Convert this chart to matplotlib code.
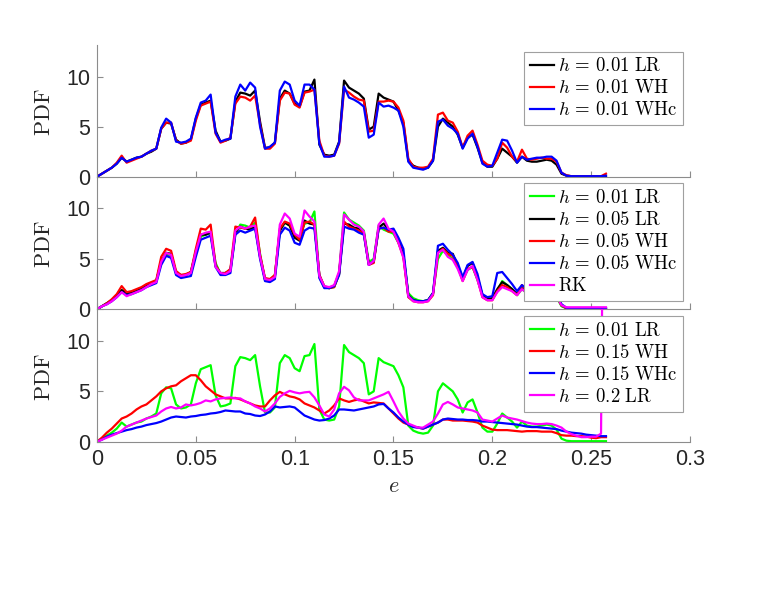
"""Three stacked PDF panels of e for several step sizes / integrators."""

import numpy as np
import matplotlib
matplotlib.use("Agg")
import matplotlib.pyplot as plt  # noqa: E402

# ---------------------------------------------------------------------------
# Data (PDF values, bin width 0.0025 in e)
# ---------------------------------------------------------------------------

E_STEP = 0.0025

lr_001 = [
    0.0, 0.3, 0.6, 0.9, 1.3, 1.9, 1.5, 1.7, 1.9, 2.0,
    2.3, 2.5, 2.8, 4.8, 5.4, 5.3, 3.7, 3.3, 3.4, 3.7,
    5.8, 7.2, 7.4, 7.6, 4.6, 3.5, 3.6, 3.8, 7.5, 8.4,
    8.3, 8.1, 8.6, 5.5, 2.9, 2.9, 3.4, 7.8, 8.6, 8.3,
    7.3, 7.0, 8.5, 8.6, 9.7, 3.2, 2.2, 2.1, 2.2, 3.5,
    9.6, 8.9, 8.6, 8.3, 7.8, 4.7, 5.0, 8.3, 7.9, 7.7,
    7.5, 6.6, 5.4, 1.6, 1.1, 0.9, 0.8, 0.9, 1.6, 5.0,
    5.8, 5.4, 5.0, 4.2, 2.9, 3.9, 4.2, 2.9, 1.4, 1.0,
    1.0, 1.8, 2.8, 2.4, 2.0, 1.4, 2.0, 1.6, 1.5, 1.5,
    1.6, 1.7, 1.6, 1.2, 0.3, 0.1, 0.05, 0.05, 0.05, 0.05,
    0.05, 0.05, 0.05, 0.05,
]
wh_001 = [
    0.0, 0.3, 0.6, 0.9, 1.4, 2.1, 1.4, 1.6, 1.8, 2.0,
    2.3, 2.6, 2.8, 4.8, 5.4, 5.4, 3.6, 3.3, 3.4, 3.6,
    5.6, 7.1, 7.3, 7.5, 4.3, 3.4, 3.6, 3.9, 7.3, 8.0,
    7.9, 7.6, 8.1, 5.2, 2.8, 2.8, 3.3, 7.6, 8.4, 8.3,
    7.2, 6.9, 8.4, 8.5, 8.7, 3.6, 2.1, 2.0, 2.1, 3.3,
    8.7, 8.4, 8.0, 7.7, 7.6, 4.5, 4.6, 7.5, 7.5, 7.6,
    7.5, 6.9, 5.6, 1.8, 1.0, 0.9, 0.9, 1.0, 1.8, 6.2,
    6.4, 5.6, 5.4, 4.5, 2.9, 4.1, 4.6, 3.2, 1.6, 1.2,
    1.1, 1.8, 3.4, 2.9, 2.0, 1.5, 2.7, 1.8, 1.7, 1.8,
    1.9, 1.8, 1.8, 1.5, 0.4, 0.15, 0.05, 0.05, 0.05, 0.05,
    0.05, 0.05, 0.05, 0.3,
]
whc_001 = [
    0.0, 0.3, 0.6, 0.9, 1.3, 1.9, 1.5, 1.7, 1.9, 2.0,
    2.3, 2.6, 2.8, 4.9, 5.8, 5.4, 3.5, 3.4, 3.5, 3.8,
    5.9, 7.4, 7.6, 8.2, 4.4, 3.5, 3.7, 3.8, 8.0, 9.2,
    8.6, 9.4, 8.9, 5.0, 2.8, 3.0, 3.4, 8.6, 9.5, 9.2,
    7.6, 7.1, 9.2, 9.2, 8.7, 3.3, 2.0, 2.0, 2.1, 3.4,
    9.0, 7.9, 7.7, 7.4, 7.0, 3.9, 4.2, 7.4, 7.0, 7.1,
    6.9, 6.6, 5.0, 1.5, 0.9, 0.8, 0.7, 0.9, 1.6, 5.5,
    5.7, 5.1, 4.8, 4.3, 2.8, 3.8, 4.3, 3.0, 1.3, 1.0,
    1.1, 2.4, 3.7, 3.6, 2.6, 1.4, 2.0, 1.7, 1.8, 1.9,
    1.9, 2.0, 2.0, 1.6, 0.4, 0.1, 0.05, 0.05, 0.05, 0.05,
    0.05, 0.05, 0.05, 0.1,
]
lr_005 = [
    0.0, 0.3, 0.6, 0.9, 1.4, 1.9, 1.6, 1.7, 1.9, 2.1,
    2.3, 2.6, 2.8, 4.7, 5.6, 5.5, 3.6, 3.4, 3.4, 3.7,
    5.6, 7.4, 7.4, 7.6, 4.3, 3.6, 3.6, 3.9, 7.6, 8.2,
    8.0, 7.9, 8.2, 5.2, 3.0, 2.9, 3.3, 7.8, 8.6, 8.3,
    7.1, 6.8, 8.8, 8.5, 8.4, 3.4, 2.2, 2.1, 2.3, 3.6,
    8.5, 8.4, 8.1, 8.0, 7.6, 4.5, 4.7, 8.1, 8.5, 7.9,
    7.8, 6.8, 5.4, 1.4, 0.9, 0.8, 0.8, 0.9, 1.6, 5.8,
    6.1, 5.6, 5.5, 4.3, 3.0, 4.3, 4.6, 3.2, 1.4, 1.0,
    1.1, 2.0, 2.7, 2.4, 2.0, 1.5, 2.1, 1.7, 1.6, 1.7,
    1.7, 1.8, 1.7, 1.4, 0.4, 0.12, 0.05, 0.05, 0.05, 0.05,
    0.05, 0.05, 0.05, 0.05,
]
wh_005 = [
    0.0, 0.3, 0.6, 1.0, 1.5, 2.3, 1.7, 1.8, 2.0, 2.2,
    2.5, 2.7, 2.9, 5.2, 6.0, 5.8, 3.8, 3.4, 3.5, 3.7,
    6.0, 8.0, 7.9, 8.4, 4.4, 3.5, 3.6, 4.0, 8.2, 8.1,
    8.0, 8.2, 9.1, 5.4, 3.1, 3.0, 3.4, 8.0, 8.7, 8.5,
    7.4, 6.9, 8.6, 8.7, 8.4, 3.4, 2.3, 2.1, 2.2, 3.5,
    8.7, 8.2, 8.0, 7.8, 7.5, 4.4, 4.6, 8.0, 8.1, 7.7,
    7.7, 6.6, 5.2, 1.2, 0.8, 0.7, 0.7, 0.8, 1.4, 5.6,
    6.0, 5.5, 5.3, 4.3, 2.8, 4.0, 4.2, 3.0, 1.2, 0.9,
    0.9, 1.8, 2.4, 2.2, 1.8, 1.4, 2.4, 1.8, 1.6, 1.7,
    1.8, 1.7, 1.7, 1.3, 0.4, 0.1, 0.05, 0.05, 0.05, 0.05,
    0.05, 0.05, 0.05, 0.05,
]
whc_005 = [
    0.0, 0.3, 0.5, 0.8, 1.2, 1.7, 1.4, 1.5, 1.7, 1.9,
    2.2, 2.4, 2.6, 4.4, 5.3, 5.1, 3.4, 3.1, 3.2, 3.3,
    5.2, 6.9, 7.1, 7.3, 4.2, 3.4, 3.4, 3.6, 7.4, 7.8,
    7.6, 7.8, 8.0, 5.0, 2.8, 2.7, 3.0, 7.4, 8.1, 7.8,
    6.6, 6.4, 7.8, 8.1, 8.0, 3.1, 2.1, 2.1, 2.3, 3.4,
    8.2, 8.0, 7.9, 7.6, 7.4, 4.4, 4.8, 8.0, 8.1, 7.9,
    8.0, 7.1, 6.0, 1.3, 0.9, 0.8, 0.8, 0.9, 1.6, 6.3,
    6.5, 5.9, 5.4, 4.6, 3.2, 4.4, 4.7, 3.5, 1.5, 1.2,
    1.3, 3.6, 3.7, 3.1, 2.5, 1.8, 2.4, 2.0, 1.9, 2.0,
    2.0, 2.1, 2.0, 1.6, 0.5, 0.15, 0.08, 0.08, 0.08, 0.08,
    0.1, 0.1, 0.1, 0.1,
]
rk = [
    0.0, 0.3, 0.5, 0.8, 1.2, 1.7, 1.3, 1.5, 1.7, 1.9,
    2.2, 2.5, 2.7, 4.7, 5.6, 5.4, 3.6, 3.3, 3.4, 3.6,
    5.7, 7.4, 7.6, 7.7, 4.2, 3.6, 3.5, 3.8, 7.8, 8.2,
    8.0, 8.2, 8.3, 5.2, 3.0, 2.9, 3.2, 8.4, 9.5, 9.0,
    7.5, 7.2, 9.8, 9.2, 8.7, 3.3, 2.3, 2.2, 2.4, 3.8,
    9.4, 8.9, 8.4, 8.2, 7.7, 4.4, 4.8, 8.4, 9.0, 8.0,
    7.7, 6.6, 5.1, 1.3, 0.8, 0.7, 0.7, 0.8, 1.5, 5.6,
    5.9, 5.2, 4.9, 4.0, 2.8, 3.9, 4.3, 2.9, 1.2, 0.9,
    0.9, 1.7, 2.2, 2.0, 1.8, 1.4, 2.0, 1.6, 1.6, 1.7,
    1.7, 1.7, 1.6, 1.3, 0.4, 0.2, 0.2, 0.2, 0.2, 0.2,
    0.2, 0.2, 0.2, 0.2,
]
wh_015 = [
    0.0, 0.4, 0.9, 1.3, 1.8, 2.3, 2.5, 2.8, 3.2, 3.5,
    3.7, 4.1, 4.5, 5.0, 5.3, 5.5, 5.6, 6.0, 6.3, 6.6,
    6.6, 6.1, 5.5, 5.1, 4.7, 4.5, 4.3, 4.3, 4.35, 4.2,
    4.0, 3.8, 3.6, 3.5, 3.5, 4.1, 4.6, 4.95, 4.7, 4.5,
    4.4, 4.2, 3.8, 3.6, 3.4, 3.1, 2.8, 3.1, 3.6, 4.3,
    4.1, 3.95, 4.1, 4.2, 4.0, 3.8, 3.9, 3.85, 3.8, 3.3,
    2.8, 2.3, 1.9, 1.7, 1.5, 1.4, 1.3, 1.5, 1.7, 1.9,
    2.2, 2.2, 2.1, 2.1, 2.1, 2.05, 2.0, 1.9, 1.6, 1.4,
    1.2, 1.15, 1.15, 1.15, 1.1, 1.05, 1.0, 1.05, 1.05, 1.05,
    1.0, 1.0, 1.0, 0.85, 0.65, 0.6, 0.6, 0.55, 0.55, 0.5,
    0.4, 0.35, 0.45, 0.45,
]
whc_015 = [
    0.0, 0.2, 0.5, 0.7, 0.85, 1.0, 1.15, 1.25, 1.4, 1.5,
    1.65, 1.75, 1.85, 2.0, 2.2, 2.4, 2.5, 2.45, 2.4, 2.5,
    2.55, 2.65, 2.7, 2.8, 2.85, 2.95, 3.1, 3.05, 3.0, 3.0,
    2.8, 2.75, 2.6, 2.55, 2.7, 3.0, 3.5, 3.4, 3.45, 3.5,
    3.4, 3.0, 2.6, 2.4, 2.2, 2.1, 2.15, 2.3, 2.6, 3.2,
    3.2, 3.15, 3.1, 3.2, 3.3, 3.4, 3.5, 3.7, 3.75, 3.3,
    2.9, 2.4, 2.0, 1.7, 1.45, 1.4, 1.3, 1.5, 1.7, 1.9,
    2.2, 2.3, 2.25, 2.2, 2.2, 2.15, 2.15, 2.1, 2.0, 2.0,
    1.95, 1.9, 1.85, 1.8, 1.75, 1.7, 1.6, 1.5, 1.45, 1.45,
    1.4, 1.35, 1.3, 1.25, 1.1, 1.0, 0.9, 0.85, 0.8, 0.7,
    0.65, 0.6, 0.55, 0.55,
]
lr_02 = [
    0.0, 0.2, 0.4, 0.6, 0.8, 1.1, 1.5, 1.7, 1.9, 2.1,
    2.3, 2.45, 2.6, 3.0, 3.3, 3.45, 3.3, 3.4, 3.7, 3.6,
    3.7, 3.85, 4.1, 4.0, 4.2, 4.3, 4.35, 4.4, 4.3, 4.3,
    4.0, 3.8, 3.5, 3.3, 3.0, 3.3, 3.8, 4.45, 4.8, 5.05,
    4.9, 4.8, 4.9, 4.95, 4.4, 3.6, 2.7, 2.5, 3.2, 4.8,
    5.45, 5.1, 4.4, 4.1, 4.1, 4.1, 4.3, 4.5, 4.7, 4.95,
    4.0, 3.0, 2.3, 1.8, 1.6, 1.4, 1.4, 1.7, 2.0, 2.8,
    3.7, 3.95, 3.7, 3.4, 3.3, 3.2, 3.1, 2.9, 2.2, 2.1,
    2.0, 2.3, 2.6, 2.4, 2.3, 2.2, 2.05, 1.9, 1.8, 1.75,
    1.75, 1.8, 1.75, 1.6, 1.4, 1.0, 0.75, 0.6, 0.45, 0.45,
    0.5, 0.5, 0.8, 60.0,
]


def _lab(h, method):
    """Legend label in LaTeX-like style: h = 0.01 LR."""
    return r"$h\,=\,%s\ \mathrm{%s}$" % (h, method)


# (series, color, legend label) per panel, in drawing order
PANELS = [
    [(lr_001, "k", _lab("0.01", "LR")),
     (wh_001, "r", _lab("0.01", "WH")),
     (whc_001, "b", _lab("0.01", "WHc"))],
    [(lr_001, "#00ff00", _lab("0.01", "LR")),
     (lr_005, "k", _lab("0.05", "LR")),
     (wh_005, "r", _lab("0.05", "WH")),
     (whc_005, "b", _lab("0.05", "WHc")),
     (rk, "#ff00ff", r"$\mathrm{RK}$")],
    [(lr_001, "#00ff00", _lab("0.01", "LR")),
     (wh_015, "r", _lab("0.15", "WH")),
     (whc_015, "b", _lab("0.15", "WHc")),
     (lr_02, "#ff00ff", _lab("0.2", "LR"))],
]

X_TICKS = [0, 0.05, 0.1, 0.15, 0.2, 0.25, 0.3]
X_TICK_LABELS = ["0", "0.05", "0.1", "0.15", "0.2", "0.25", "0.3"]
Y_TICKS = [0, 5, 10]

# ---------------------------------------------------------------------------
# Figure
# ---------------------------------------------------------------------------

plt.rcParams["font.family"] = ["Liberation Sans", "DejaVu Sans"]
plt.rcParams["mathtext.fontset"] = "cm"

AX_COLOR = "#8c8c8c"
TXT_COLOR = "#262626"

fig = plt.figure(figsize=(7.63, 6.11), dpi=100)

left, width = 0.1271, 0.7772
boxes = [(0.7108, 0.2155), (0.4938, 0.2170), (0.2771, 0.2167)]

for k, (panel, (bottom, height)) in enumerate(zip(PANELS, boxes)):
    ax = fig.add_axes([left, bottom, width, height])
    for series, color, label in panel:
        e = E_STEP * np.arange(len(series))
        ax.plot(e, series, color=color, lw=1.6, label=label)

    ax.set_xlim(0, 0.3)
    ax.set_ylim(0, 13.15)
    ax.set_xticks(X_TICKS)
    ax.set_yticks(Y_TICKS)
    ax.set_yticklabels([str(v) for v in Y_TICKS])
    if k == 2:
        ax.set_xticklabels(X_TICK_LABELS)
        ax.set_xlabel(r"$e$", fontsize=16, color=TXT_COLOR)
        ax.xaxis.set_label_coords(0.5, -0.26)
    else:
        ax.set_xticklabels([])

    ax.set_ylabel(r"$\mathrm{PDF}$", fontsize=16, color=TXT_COLOR)
    ax.yaxis.set_label_coords(-0.071, 0.49)

    for side in ("top", "right"):
        ax.spines[side].set_visible(False)
    for side in ("left", "bottom"):
        ax.spines[side].set_color(AX_COLOR)
        ax.spines[side].set_linewidth(0.8)
    ax.tick_params(direction="in", length=4, width=0.8, color=AX_COLOR,
                   labelsize=15.5, labelcolor=TXT_COLOR, pad=5)
    ax.patch.set_alpha(0)

    leg = ax.legend(loc="upper right", bbox_to_anchor=(0.988, 0.95),
                    borderaxespad=0, fontsize=13.5, handlelength=1.3,
                    handletextpad=0.2, borderpad=0.3, labelspacing=0.22,
                    fancybox=False, framealpha=1)
    leg.get_frame().set_edgecolor("#a0a0a0")
    leg.get_frame().set_linewidth(0.8)

fig.savefig("out.png", dpi=100)
